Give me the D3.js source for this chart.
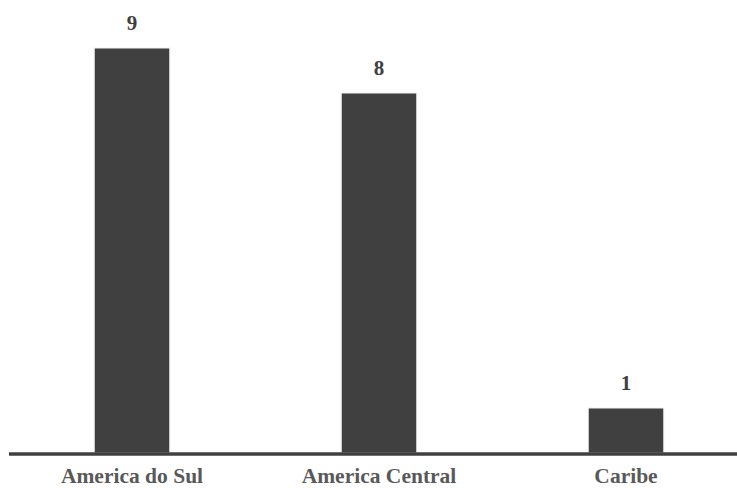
<!DOCTYPE html>
<html>
<head>
<meta charset="utf-8">
<script src="https://cdn.jsdelivr.net/npm/d3@7"></script>
<style>
  html, body { margin: 0; padding: 0; background: #fff; }
  svg { display: block; }
</style>
</head>
<body>
<svg id="chart" width="737" height="488"></svg>
<script>
const categories = ["America do Sul", "America Central", "Caribe"];
const values = [9, 8, 1];

const svg = d3.select("#chart");
const W = 737, H = 488;
const baseY = 453;

const x = d3.scaleBand()
  .domain(categories)
  .range([8.5, 749.5])
  .paddingInner(0.694)
  .paddingOuter(0.347);

const y = d3.scaleLinear()
  .domain([0, 9])
  .range([baseY, 48]);

const font = "'Liberation Serif', 'DejaVu Serif', serif";

svg.selectAll("rect.bar")
  .data(values)
  .enter().append("rect")
  .attr("class", "bar")
  .attr("x", (d, i) => x(categories[i]))
  .attr("y", d => y(d))
  .attr("width", x.bandwidth())
  .attr("height", d => y(0) - y(d))
  .attr("fill", "#404040")
  .attr("stroke", "#f2f2f2")
  .attr("stroke-width", 1);

// axis
const xAxis = d3.axisBottom(x).tickSize(0);
const gx = svg.append("g")
  .attr("transform", `translate(0,${baseY})`)
  .call(xAxis);
gx.select(".domain").remove();
gx.append("line")
  .attr("x1", 9).attr("x2", W)
  .attr("y1", 1).attr("y2", 1)
  .attr("stroke", "#404040")
  .attr("stroke-width", 3.5);
gx.selectAll(".tick text")
  .attr("font-family", font)
  .attr("font-weight", "bold")
  .attr("font-size", 21.5)
  .attr("fill", "#595959")
  .attr("y", 30)
  .attr("dy", 0);

// value labels
svg.selectAll("text.val")
  .data(values)
  .enter().append("text")
  .attr("class", "val")
  .attr("x", (d, i) => x(categories[i]) + x.bandwidth() / 2)
  .attr("y", d => y(d) - 18)
  .attr("text-anchor", "middle")
  .attr("font-family", font)
  .attr("font-weight", "bold")
  .attr("font-size", 21)
  .attr("fill", "#404040")
  .text(d => d);
</script>
</body>
</html>
